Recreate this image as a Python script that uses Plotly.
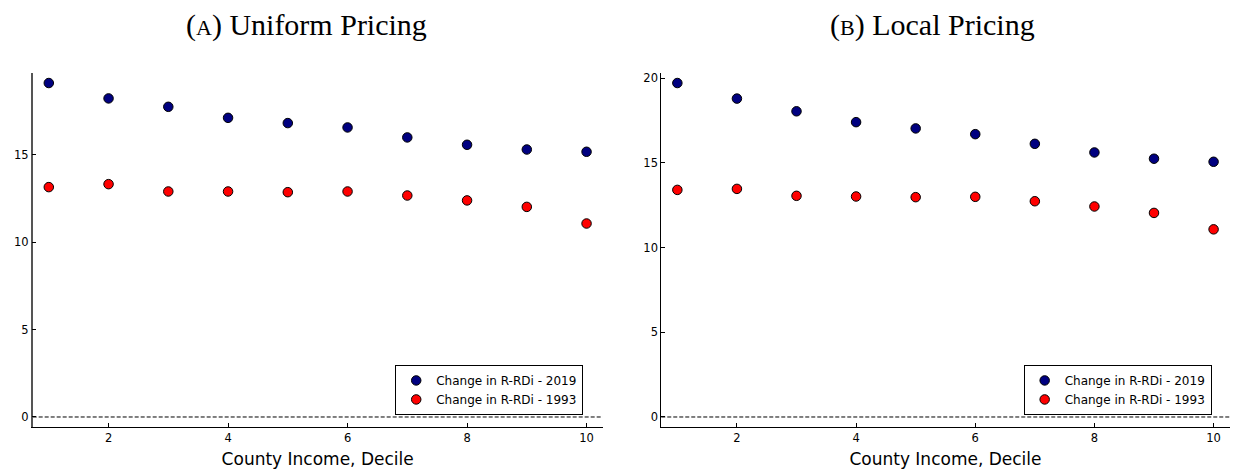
import plotly.graph_objects as go

deciles = [1, 2, 3, 4, 5, 6, 7, 8, 9, 10]

uniform_2019 = [19.09, 18.21, 17.73, 17.10, 16.80, 16.55, 15.98, 15.56, 15.29, 15.16]
uniform_1993 = [13.14, 13.31, 12.89, 12.89, 12.85, 12.89, 12.66, 12.38, 12.01, 11.06]

local_2019 = [19.72, 18.80, 18.05, 17.41, 17.04, 16.70, 16.13, 15.62, 15.25, 15.07]
local_1993 = [13.41, 13.47, 13.06, 13.02, 12.98, 13.00, 12.74, 12.43, 12.05, 11.08]

series_names = ["Change in R-RDi - 2019", "Change in R-RDi - 1993"]
series_colors = ["#000080", "#ff0000"]
panel_titles = ["(<span style='font-size:22px'>A</span>) Uniform Pricing",
                "(<span style='font-size:22px'>B</span>) Local Pricing"]
x_ticks = [2, 4, 6, 8, 10]
x_title = "County Income, Decile"

fig = go.Figure()

panels = [(uniform_2019, uniform_1993, "x", "y", "legend"),
          (local_2019, local_1993, "x2", "y2", "legend2")]
for s2019, s1993, xa, ya, lg in panels:
    for name, vals, col in zip(series_names, [s2019, s1993], series_colors):
        fig.add_trace(go.Scatter(
            x=deciles, y=vals, mode="markers", name=name,
            xaxis=xa, yaxis=ya, legend=lg,
            marker=dict(size=9.5, color=col, line=dict(color="black", width=1)),
        ))

tick_font = dict(family="DejaVu Sans", size=11.5, color="black")
axis_common = dict(showgrid=False, zeroline=False, showline=True, linecolor="black",
                   linewidth=1, ticks="inside", ticklen=4, tickcolor="black",
                   tickfont=tick_font, automargin=False, mirror=False)

def yr(a, b):
    m = max(max(a), max(b))
    return [-0.03 * m, 1.03 * m]

xr = [1 - 0.03 * 9, 10 + 0.03 * 9]
title_font = dict(family="DejaVu Sans", size=17, color="black")
legend_common = dict(y=0.119, xanchor="right", yanchor="bottom",
                     bordercolor="black", borderwidth=1, bgcolor="white",
                     font=dict(family="DejaVu Sans", size=12, color="black"),
                     tracegroupgap=0)

fig.update_layout(
    width=1233, height=471,
    margin=dict(l=0, r=0, t=0, b=0),
    plot_bgcolor="white", paper_bgcolor="white",
    showlegend=True,
    xaxis=dict(domain=[0.0265, 0.4888], range=xr, tickvals=x_ticks, anchor="y",
               title=dict(text=x_title, font=title_font, standoff=9),
               **axis_common),
    yaxis=dict(domain=[0.0934, 0.845], range=yr(uniform_2019, uniform_1993),
               tickvals=[0, 5, 10, 15], anchor="x", **axis_common),
    xaxis2=dict(domain=[0.5363, 0.9973], range=xr, tickvals=x_ticks, anchor="y2",
                title=dict(text=x_title, font=title_font, standoff=9),
                **axis_common),
    yaxis2=dict(domain=[0.0934, 0.845], range=yr(local_2019, local_1993),
                tickvals=[0, 5, 10, 15, 20], anchor="x2", **axis_common),
    legend=dict(x=0.473, **legend_common),
    legend2=dict(x=0.9827, **legend_common),
)
fig.update_yaxes(selector=dict(anchor="x"), linecolor="#555555", linewidth=1.5)

for xref, yref in [("x domain", "y"), ("x2 domain", "y2")]:
    fig.add_shape(type="line", xref=xref, yref=yref, x0=0, x1=1, y0=0, y1=0,
                  line=dict(color="black", width=1, dash="4px,2px"), layer="below")

for xpos, txt in zip([0.2486, 0.7563], panel_titles):
    fig.add_annotation(x=xpos, y=1 - 25 / 471, xref="paper", yref="paper", text=txt,
                       showarrow=False, xanchor="center", yanchor="middle",
                       font=dict(family="Liberation Serif", size=30, color="black"))

fig.write_html("out.html")
